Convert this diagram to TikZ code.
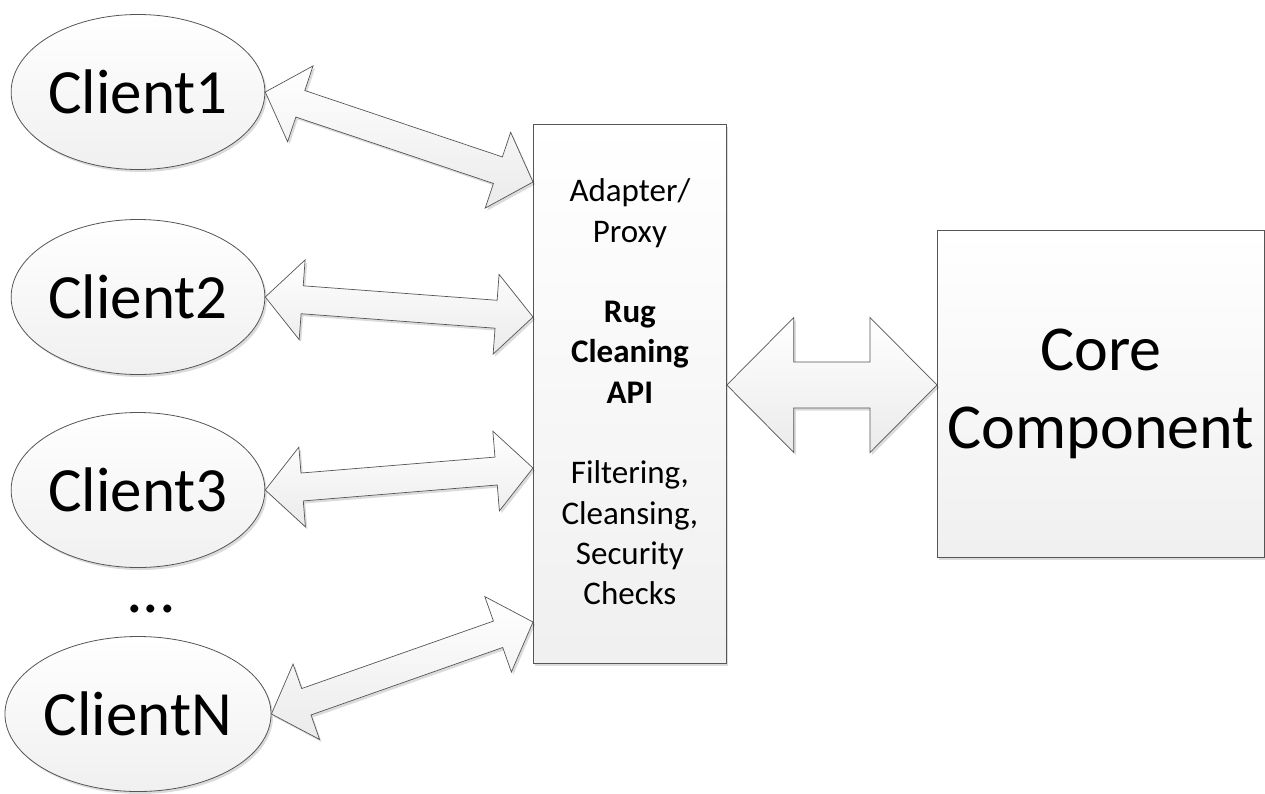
\documentclass[tikz,border=0pt]{standalone}
\usepackage{fontspec}
\setmainfont{Carlito}
\usetikzlibrary{calc,shadows,shapes.geometric}
\definecolor{edge}{HTML}{555555}
\tikzset{
  softshadow/.style={drop shadow={shadow xshift=2pt,shadow yshift=-2.5pt,fill=black,opacity=0.14}},
  boxfill/.style={draw=edge, line width=0.8pt, top color=white, bottom color=black!6, softshadow},
  client/.style={boxfill, ellipse, minimum width=251pt, minimum height=155pt, inner sep=0pt, font=\fontsize{63}{77}\selectfont},
  arrowfill/.style={draw=edge, line width=0.7pt, top color=white, bottom color=black!8, softshadow, line join=miter},
}
\newcommand\dblarrow[5]{%
  \path[arrowfill] let \p1=(#1), \p2=(#2),
    \n1={atan2(\y2-\y1,\x2-\x1)}, \n2={veclen(\x2-\x1,\y2-\y1)} in
    [shift={(\p1)}, rotate=\n1]
    (0,0) -- (#5,#4) -- (#5,#3) -- ({\n2-#5},#3) -- ({\n2-#5},#4) -- (\n2,0)
    -- ({\n2-#5},-#4) -- ({\n2-#5},-#3) -- (#5,-#3) -- (#5,-#4) -- cycle;}
\begin{document}
\begin{tikzpicture}[x=1pt,y=1pt]
\useasboundingbox (0,0) rectangle (1265,-793);
% clients
\node[client] (cl1) at (138,-92) {Client1};
\node[client] (cl2) at (138,-297) {Client2};
\node[client] (cl3) at (138,-490) {Client3};
\node[client] (clN) at (138,-714) {ClientN};
\node[font=\fontsize{66}{77}\selectfont] (dots) at (151,-609) {...};
% API box
\node[boxfill, rectangle, minimum width=193pt, minimum height=539pt, inner sep=0pt,anchor=north west] (api) at (533,-124) {};
\node[align=center, font=\fontsize{33}{40.3}\selectfont] (apitext) at ($(api.center)+(0,2)$)
  {Adapter/\\Proxy\\[40.3pt]\textbf{Rug}\\\textbf{Cleaning}\\\textbf{API}\\[40.3pt]Filtering,\\Cleansing,\\Security\\Checks};
% core
\node[boxfill, rectangle, minimum width=327pt, minimum height=327pt, inner sep=0pt, anchor=north west,
  align=center, font=\fontsize{64}{78}\selectfont] (core) at (937,-230) {Core\\Component};
% arrow endpoints on the API box
\coordinate (t1) at (api.west |- 0,-182);
\coordinate (t2) at (api.west |- 0,-317);
\coordinate (t3) at (api.west |- 0,-468);
\coordinate (tN) at (api.west |- 0,-622);
\coordinate (b1) at (api.east |- 0,-385);
\coordinate (b2) at (core.west |- 0,-385);
% connectors
\dblarrow{cl1.east}{t1}{14}{40}{37}
\dblarrow{cl2.east}{t2}{14}{40}{37}
\dblarrow{cl3.east}{t3}{14}{40}{37}
\dblarrow{clN.east}{tN}{14}{40}{37}
\dblarrow{b1}{b2}{23}{67.5}{67}
\end{tikzpicture}
\end{document}
